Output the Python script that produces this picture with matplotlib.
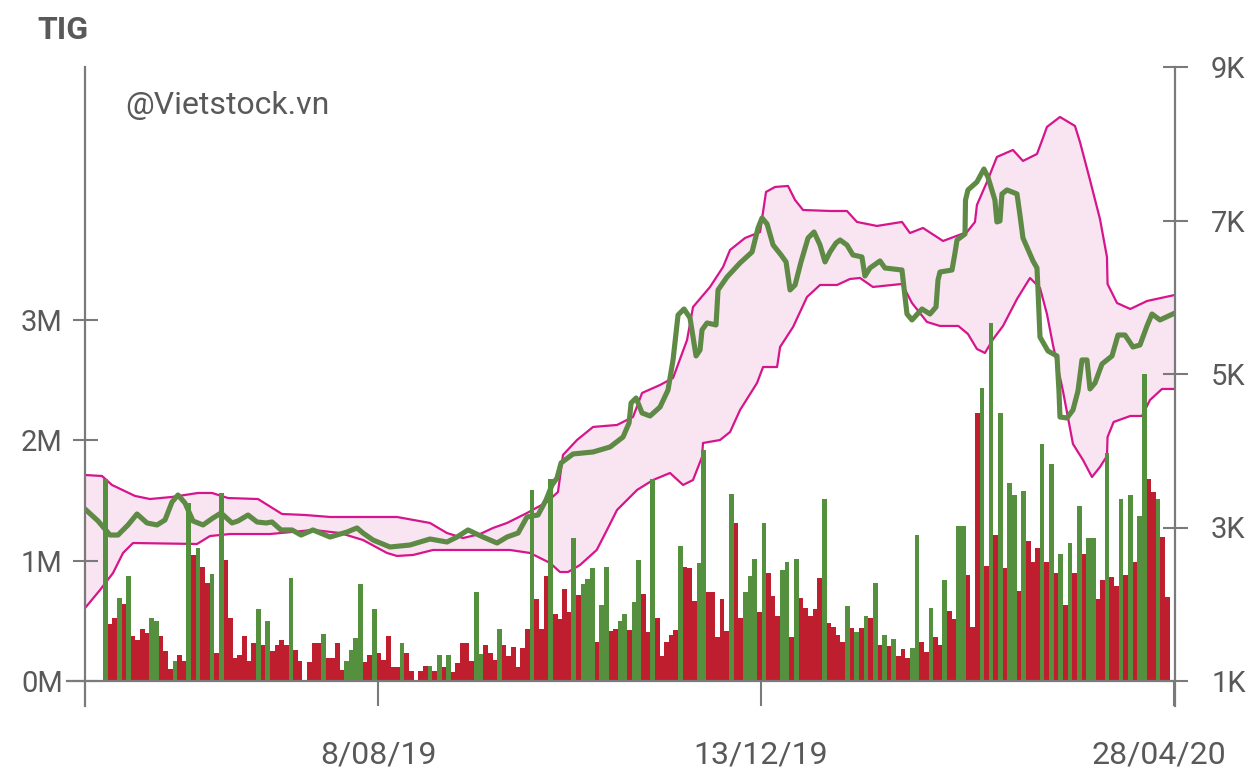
import matplotlib
matplotlib.use("Agg")
import matplotlib.pyplot as plt
from matplotlib.transforms import ScaledTranslation
import numpy as np

# ---------------- data ----------------
# daily volume (millions of shares), one bar per trading session
volume_m = [
    1.676, 0.474, 0.524, 0.690, 0.640, 0.873, 0.374, 0.341, 0.432, 0.396,
    0.524, 0.499, 0.374, 0.249, 0.100, 0.166, 0.216, 0.166, 1.482, 1.047,
    1.105, 0.947, 0.814, 0.889, 0.233, 1.562, 1.008, 0.524, 0.191, 0.216,
    0.374, 0.166, 0.316, 0.598, 0.299, 0.499, 0.249, 0.299, 0.341, 0.299,
    0.856, 0.258, 0.166,
    0.0, 0.158, 0.316, 0.316, 0.391, 0.191, 0.191, 0.316, 0.091, 0.166,
    0.258, 0.357, 0.806, 0.158, 0.216, 0.598, 0.233, 0.175, 0.374, 0.116,
    0.116, 0.316, 0.233, 0.083, 0.0, 0.083, 0.125, 0.125, 0.083, 0.216,
    0.116, 0.216, 0.075, 0.150, 0.316, 0.316, 0.166, 0.740, 0.224, 0.299,
    0.233, 0.175, 0.432, 0.299, 0.208, 0.283, 0.116, 0.274,
    0.432, 1.587, 0.681, 0.432, 0.873, 1.679, 0.557, 0.515, 0.765, 0.573,
    1.188, 0.715, 0.806, 0.848, 0.939, 0.324, 0.632, 0.947, 0.416, 0.432,
    0.499, 0.557, 0.424, 0.657, 1.006, 0.723, 0.407, 1.679, 0.524, 0.208,
    0.324, 0.382, 0.424, 1.122, 0.947, 0.939, 0.665, 0.981, 1.920, 0.740,
    0.740, 0.366, 0.681, 0.416, 1.554, 1.313,
    0.524, 0.740, 0.873, 1.014, 0.573, 1.313, 0.898, 0.706, 0.540, 0.922,
    0.989, 0.366, 1.014, 0.690, 0.607, 0.540, 0.598, 0.856, 1.512, 0.482,
    0.449, 0.382, 0.324, 0.623, 0.440, 0.407, 0.440, 0.540, 0.524, 0.814,
    0.299, 0.382, 0.291, 0.349, 0.208, 0.266, 0.191, 0.274, 1.213, 0.324,
    0.241, 0.607, 0.366, 0.299, 0.839, 0.582, 0.515, 1.288,
    1.288, 0.881, 0.449, 2.227, 2.435, 0.956, 2.975, 1.213, 2.227, 0.939,
    1.645, 1.546, 0.748, 1.579, 1.163, 0.989, 1.105, 1.970, 0.989, 1.803,
    0.898, 1.055, 0.632, 1.147, 0.898, 1.454, 1.055, 1.188, 1.188, 0.681,
    0.839, 1.895, 0.864, 0.790, 1.512, 0.881, 1.546, 0.989, 1.371, 2.551,
    1.679, 1.571, 1.512, 1.197, 0.698,
]
# g = price up (green), r = price down (red)
direction = (
    "grrgrgrrrr" "ggrrrgrrgr" "grrgrgrrrr" "rrrgrgrrrr" "grr"
    "rrrrgrrrrg" "gggrrgrrrr" "rgrrrrrgrg" "rgrrrrrggr" "rrgrrrrr"
    "rgrrrgrrrr" "grgggrggrr" "ggrggrrgrr" "rrrgrrrggr" "rrrrgr"
    "rgggrgrrrg" "grgrrrrrgr" "rrrgrgrgrg" "rgrgrrrggr" "rgrrgrrg"
    "grrrgrgrgr" "ggrgrrrgrg" "rgrgrgrggr" "rgrrgrgrgg" "rrgrr"
)

# closing price (VND), positions in session index
price_idx = [-4.38, -1.57, 1.01, 2.74, 4.89, 6.83, 8.99, 11.15, 12.87, 14.38,
             15.67, 17.18, 18.91, 21.07, 23.22, 24.95, 27.32, 28.61, 30.77, 32.71,
             34.65, 35.94, 37.88, 40.26, 42.2, 44.78, 48.45, 52.11, 54.27, 55.56,
             57.72, 61.38, 65.69, 70.0, 73.67, 75.83, 78.2, 81.44, 84.46, 86.61,
             89.0, 90.92, 93.3, 95.02, 96.32, 97.4, 98.26, 100.85, 105.16, 108.83,
             111.63, 112.93, 113.36, 114.44, 115.73, 117.45, 119.61, 121.33, 122.41, 123.49,
             124.78, 126.07, 126.72, 127.37, 128.23, 128.66, 129.74, 131.68, 132.11, 134.05,
             136.86, 139.45, 140.74, 141.6, 142.68, 143.98, 145.7, 146.78, 147.64, 148.72,
             150.0, 151.52, 152.81, 154.1, 155.18, 156.26, 157.55, 158.42, 159.91, 161.2,
             163.14, 163.79, 164.87, 167.03, 168.1, 171.77, 172.85, 173.93, 176.09, 177.81,
             179.11, 179.54, 179.97, 182.56, 183.2, 183.64, 185.36, 185.47, 186.0, 187.93,
             189.44, 190.3, 191.81, 192.24, 192.9, 193.33, 194.41, 196.57, 197.21, 197.86,
             200.02, 200.88, 201.1, 201.53, 203.25, 205.19, 205.62, 205.84, 207.35, 208.64,
             209.72, 210.58, 211.66, 212.31, 213.39, 214.9, 217.06, 218.35, 219.86, 221.58,
             223.09, 224.6, 225.68, 227.4, 230.63]
price = [3241, 3085, 2902, 2902, 3033, 3176, 3059, 3033, 3098, 3332,
         3424, 3319, 3085, 3033, 3124, 3189, 3059, 3085, 3163, 3072,
         3059, 3072, 2968, 2968, 2902, 2968, 2876, 2941, 2994, 2928,
         2837, 2746, 2772, 2850, 2811, 2876, 2968, 2876, 2798, 2876,
         2928, 3137, 3163, 3358, 3554, 3645, 3841, 3958, 3984, 4049,
         4179, 4362, 4622, 4687, 4492, 4453, 4570, 4792, 5183, 5769,
         5847, 5730, 5482, 5235, 5313, 5574, 5665, 5639, 6095, 6264,
         6447, 6590, 6903, 7033, 6955, 6681, 6551, 6460, 6095, 6160,
         6460, 6772, 6850, 6681, 6460, 6590, 6707, 6746, 6681, 6551,
         6525, 6277, 6381, 6473, 6381, 6355, 5782, 5704, 5847, 5782,
         5873, 6225, 6329, 6355, 6577, 6746, 6824, 7267, 7398, 7502,
         7671, 7567, 7267, 6981, 6994, 7346, 7398, 7346, 7072, 6772,
         6473, 6381, 6095, 5482, 5300, 5235, 4779, 4440, 4427, 4531,
         4779, 5183, 5183, 4805, 4883, 5131, 5235, 5508, 5508, 5352,
         5378, 5626, 5782, 5704, 5795]

# Bollinger upper band
upper_idx = [-4.36, -0.71, 1.44, 6.4, 9.64, 14.38, 19.99, 23.0, 26.45, 32.92,
             38.1, 43.06, 48.45, 62.9, 70.0, 73.67, 77.13, 80.79, 83.6, 86.61,
             90.92, 95.23, 97.6, 98.68, 101.7, 105.16, 110.33, 113.78, 115.73, 119.61,
             122.41, 125.43, 126.72, 130.38, 133.19, 134.7, 137.93, 141.17, 142.46, 144.4,
             147.2, 148.72, 150.44, 156.26, 159.91, 162.07, 166.38, 171.77, 173.5, 176.3,
             180.62, 185.79, 187.51, 187.93, 190.09, 192.24, 195.69, 197.86, 200.88, 202.17,
             203.03, 205.84, 209.07, 210.15, 212.31, 214.46, 215.97, 216.1, 218.14, 221.0,
             224.6, 230.63]
upper = [3684, 3671, 3554, 3411, 3371, 3398, 3450, 3450, 3384, 3371,
         3176, 3163, 3137, 3137, 3059, 2928, 2863, 2915, 2994, 3059,
         3189, 3332, 3463, 3945, 4140, 4310, 4336, 4440, 4753, 4857,
         4948, 5443, 5873, 6134, 6394, 6616, 6772, 6850, 7372, 7437,
         7450, 7267, 7137, 7124, 7124, 6981, 6929, 6981, 6837, 6903,
         6733, 6850, 6981, 7202, 7502, 7828, 7919, 7776, 7867, 8075,
         8219, 8349, 8232, 8023, 7528, 7020, 6525, 6173, 5925, 5847,
         5951, 6030]

# Bollinger lower band
lower_idx = [-4.36, -1.14, 1.66, 3.82, 5.97, 19.77, 22.58, 26.89, 35.51, 44.85,
             50.6, 55.56, 60.74, 62.9, 66.35, 70.66, 87.26, 91.57, 95.88, 98.04,
             99.77, 102.35, 105.95, 108.17, 110.33, 114.65, 118.1, 121.76, 124.57, 126.72,
             128.66, 128.87, 132.54, 134.7, 136.86, 140.52, 141.82, 144.84, 145.49, 148.29,
             151.3, 154.1, 157.77, 160.57, 162.72, 165.5, 171.77, 173.93, 177.16, 179.97,
             183.92, 186.0, 187.93, 189.66, 191.45, 193.56, 196.57, 199.38, 201.53, 203.03,
             204.33, 206.48, 208.64, 210.8, 212.74, 214.46, 215.97, 216.1, 217.41, 221.0,
             223.52, 225.25, 227.84, 230.63]
lower = [1951, 2186, 2407, 2668, 2798, 2785, 2889, 2915, 2915, 2968,
         2928, 2837, 2668, 2629, 2642, 2707, 2707, 2668, 2538, 2420,
         2420, 2511, 2707, 2968, 3228, 3489, 3619, 3710, 3554, 3619,
         3919, 4101, 4140, 4244, 4531, 4883, 5091, 5091, 5352, 5613,
         6004, 6160, 6160, 6238, 6251, 6134, 6173, 5925, 5678, 5626,
         5626, 5521, 5326, 5274, 5456, 5626, 5977, 6251, 6121, 5782,
         5378, 4779, 4088, 3880, 3658, 3788, 3932, 4179, 4375, 4453,
         4453, 4661, 4805, 4805]

date_labels = ["8/08/19", "13/12/19", "28/04/20"]
date_idx = [58.8, 141.4, 230.4]
vol_ticks = [0, 1, 2, 3]
vol_labels = ["0M", "1M", "2M", "3M"]
price_ticks = [1000, 3000, 5000, 7000, 9000]
price_labels = ["1K", "3K", "5K", "7K", "9K"]

# ---------------- style ----------------
RED = "#BE1E2D"
GREEN = "#55903F"
LINE_GREEN = "#5E8A46"
MAGENTA = "#D6158C"
FILL = "#F9E4F1"
AXIS = "#7A7A7A"
TEXT = "#595959"

plt.rcParams["font.family"] = ["Roboto", "DejaVu Sans"]

fig = plt.figure(figsize=(12.51, 7.72), dpi=100)
ax = fig.add_axes([85 / 1251, 1 - 681 / 772, 1090 / 1251, 614 / 772])
ax2 = ax.twinx()
ax.set_zorder(ax2.get_zorder() + 1)
ax.patch.set_visible(False)

# price + bands on the right axis
poly_x = list(upper_idx) + list(lower_idx[::-1])
poly_y = list(upper) + list(lower[::-1])
ax2.fill(poly_x, poly_y, color=FILL, lw=0, zorder=1)
ax2.plot(upper_idx, upper, color=MAGENTA, lw=1.6, zorder=2, solid_joinstyle="round")
ax2.plot(lower_idx, lower, color=MAGENTA, lw=1.6, zorder=2, solid_joinstyle="round")
ax2.plot(price_idx, price, color=LINE_GREEN, lw=3.7, zorder=3,
         solid_joinstyle="round", solid_capstyle="round")

# volume bars on the left axis
n = len(volume_m)
xs = np.arange(n)
cols = [GREEN if d == "g" else RED for d in direction]
ax.bar(xs, volume_m, width=1.0, color=cols, linewidth=0, zorder=3)

xmin, xmax = -4.38, 230.64
ax.set_xlim(xmin, xmax)
ax.set_ylim(0, 5.1026)
ax2.set_ylim(1000, 9000)

for a in (ax, ax2):
    for s in a.spines.values():
        s.set_visible(False)

ax.set_yticks(vol_ticks)
ax.set_yticklabels(vol_labels)
ax.tick_params(axis="y", direction="inout", length=18, width=1.5, color=AXIS,
               labelcolor=TEXT, labelsize=21, pad=7)
ax2.set_yticks(price_ticks)
ax2.set_yticklabels(price_labels)
ax2.tick_params(axis="y", direction="inout", length=18, width=1.5, color=AXIS,
                labelcolor=TEXT, labelsize=21, pad=17)

# date axis: ticks, labels drawn as text (last one kept inside the chart)
ax.set_xticks(date_idx)
ax.set_xticklabels([])
ax.tick_params(axis="x", direction="out", length=18, width=1.5, color=AXIS)
shifts = [0, 0, -15]
for xi, lab, sh in zip(date_idx, date_labels, shifts):
    tr = ax.get_xaxis_transform() + ScaledTranslation(sh / 100, 0, fig.dpi_scale_trans)
    ax.text(xi, -0.1205, lab, transform=tr, ha="center", va="center",
            fontsize=23, color=TEXT)

# axis lines (extend below the baseline like the original)
ax.plot([0, 0], [-0.0407, 1.0], transform=ax.transAxes, color=AXIS, lw=1.6,
        clip_on=False, zorder=5)
ax.plot([1, 1], [-0.0407, 1.0], transform=ax.transAxes, color=AXIS, lw=1.6,
        clip_on=False, zorder=5)
ax.plot([-0.0165, 1.0], [0, 0], transform=ax.transAxes, color=AXIS, lw=1.6,
        clip_on=False, zorder=5)

fig.text(37 / 1251, 1 - 30 / 772, "TIG", fontsize=23, fontweight="bold",
         color=TEXT, va="center", ha="left")
fig.text(125 / 1251, 1 - 106 / 772, "@Vietstock.vn",
         fontsize=23, color=TEXT, va="center", ha="left")

fig.savefig("out.png", dpi=100)
